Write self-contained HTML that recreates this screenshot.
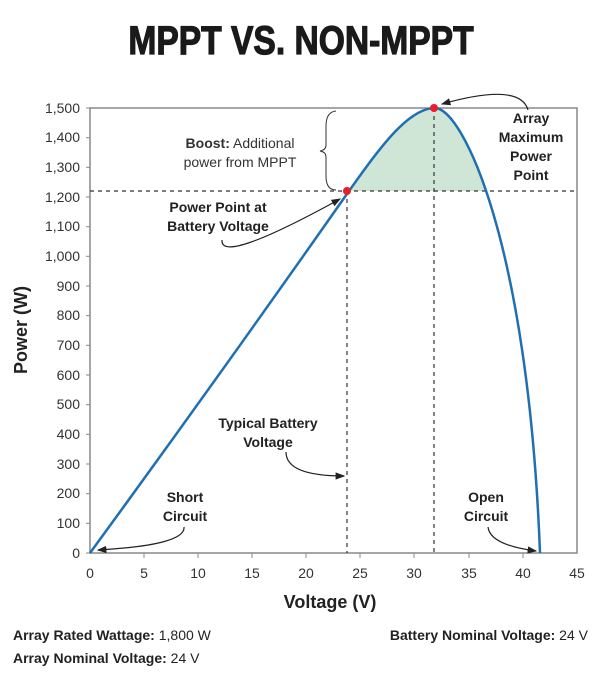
<!DOCTYPE html><html><head><style>body{margin:0;background:#fff}svg{display:block}</style></head><body>
<svg width="602" height="679" viewBox="0 0 602 679" xmlns="http://www.w3.org/2000/svg" font-family="Liberation Sans, sans-serif">
<defs><clipPath id="c"><rect x="0" y="0" width="602" height="191"/></clipPath>
<marker id="a" markerWidth="8" markerHeight="8" refX="7" refY="4" orient="auto"><path d="M0,1 L8,4 L0,7 z" fill="#222"/></marker></defs>
<text x="301" y="54" text-anchor="middle" font-size="40" font-weight="bold" fill="#1a1a1a" stroke="#1a1a1a" stroke-width="1.2" transform="translate(301 0) scale(0.84 1) translate(-301 0)">MPPT VS. NON-MPPT</text>
<rect x="90" y="108" width="487" height="445" fill="none" stroke="#888" stroke-width="1.5"/>
<g stroke="#888" stroke-width="1">
<line x1="86" y1="553" x2="90" y2="553"/><line x1="86" y1="523.3" x2="90" y2="523.3"/><line x1="86" y1="493.7" x2="90" y2="493.7"/><line x1="86" y1="464" x2="90" y2="464"/><line x1="86" y1="434.3" x2="90" y2="434.3"/><line x1="86" y1="404.7" x2="90" y2="404.7"/><line x1="86" y1="375" x2="90" y2="375"/><line x1="86" y1="345.3" x2="90" y2="345.3"/><line x1="86" y1="315.7" x2="90" y2="315.7"/><line x1="86" y1="286" x2="90" y2="286"/><line x1="86" y1="256.3" x2="90" y2="256.3"/><line x1="86" y1="226.7" x2="90" y2="226.7"/><line x1="86" y1="197" x2="90" y2="197"/><line x1="86" y1="167.3" x2="90" y2="167.3"/><line x1="86" y1="137.7" x2="90" y2="137.7"/><line x1="86" y1="108" x2="90" y2="108"/>
<line x1="144" y1="553" x2="144" y2="558"/><line x1="198" y1="553" x2="198" y2="558"/><line x1="252" y1="553" x2="252" y2="558"/><line x1="306" y1="553" x2="306" y2="558"/><line x1="360" y1="553" x2="360" y2="558"/><line x1="414" y1="553" x2="414" y2="558"/><line x1="469" y1="553" x2="469" y2="558"/><line x1="523" y1="553" x2="523" y2="558"/>
</g>
<g font-size="14" fill="#333" text-anchor="end">
<text x="80" y="558">0</text><text x="80" y="528">100</text><text x="80" y="498">200</text><text x="80" y="469">300</text><text x="80" y="439">400</text><text x="80" y="409">500</text><text x="80" y="380">600</text><text x="80" y="350">700</text><text x="80" y="320">800</text><text x="80" y="291">900</text><text x="80" y="261">1,000</text><text x="80" y="231">1,100</text><text x="80" y="202">1,200</text><text x="80" y="172">1,300</text><text x="80" y="142">1,400</text><text x="80" y="113">1,500</text>
</g>
<g font-size="14" fill="#333" text-anchor="middle">
<text x="90" y="578">0</text><text x="144" y="578">5</text><text x="198" y="578">10</text><text x="252" y="578">15</text><text x="306" y="578">20</text><text x="360" y="578">25</text><text x="414" y="578">30</text><text x="469" y="578">35</text><text x="523" y="578">40</text><text x="577" y="578">45</text>
</g>
<text x="330" y="608" text-anchor="middle" font-size="18" font-weight="bold" fill="#222">Voltage (V)</text>
<text transform="translate(27 330) rotate(-90)" text-anchor="middle" font-size="18" font-weight="bold" fill="#222">Power (W)</text>
<path d="M90,553 Q220,375 349,191 C379,149 408,108 435,108 C462,108 528,240 540,553 Z" fill="#cfe6d6" clip-path="url(#c)"/>
<g stroke="#333" stroke-width="1.2" stroke-dasharray="4,4" fill="none">
<line x1="90" y1="191" x2="577" y2="191"/><line x1="347" y1="191" x2="347" y2="553"/><line x1="434" y1="108" x2="434" y2="553"/>
</g>
<path d="M90,553 Q220,375 349,191 C379,149 408,108 435,108 C462,108 528,240 540,553" fill="none" stroke="#1f6fb3" stroke-width="2.5"/>
<circle cx="347" cy="191" r="4" fill="#e8202a"/><circle cx="434" cy="108" r="4" fill="#e8202a"/>
<path d="M336,111 Q326,112 326,126 L326,145 Q326,150 320,151 Q326,152 326,157 L326,176 Q326,190 336,190" fill="none" stroke="#333" stroke-width="1"/>
<text x="240" y="148" text-anchor="middle" font-size="14" fill="#333"><tspan font-weight="bold">Boost:</tspan> Additional</text>
<text x="240" y="167" text-anchor="middle" font-size="14" fill="#333">power from MPPT</text>
<g font-size="14" font-weight="bold" fill="#222" text-anchor="middle">
<text x="531" y="123">Array</text><text x="531" y="142">Maximum</text><text x="531" y="161">Power</text><text x="531" y="180">Point</text>
<text x="218" y="212">Power Point at</text><text x="218" y="231">Battery Voltage</text>
<text x="268" y="428">Typical Battery</text><text x="268" y="447">Voltage</text>
<text x="185" y="502">Short</text><text x="185" y="521">Circuit</text>
<text x="486" y="502">Open</text><text x="486" y="521">Circuit</text>
</g>
<g fill="none" stroke="#222" stroke-width="1.2" marker-end="url(#a)">
<path d="M528,110 Q520,82 442,104"/>
<path d="M222,240 Q220,265 340,199"/>
<path d="M286,452 Q286,476 344,476"/>
<path d="M184,527 Q186,545 98,550"/>
<path d="M488,527 Q490,545 536,551"/>
</g>
<g font-size="14" fill="#222">
<text x="13" y="640"><tspan font-weight="bold">Array Rated Wattage:</tspan> 1,800 W</text>
<text x="13" y="663"><tspan font-weight="bold">Array Nominal Voltage:</tspan> 24 V</text>
<text x="588" y="640" text-anchor="end"><tspan font-weight="bold">Battery Nominal Voltage:</tspan> 24 V</text>
</g>
</svg></body></html>
